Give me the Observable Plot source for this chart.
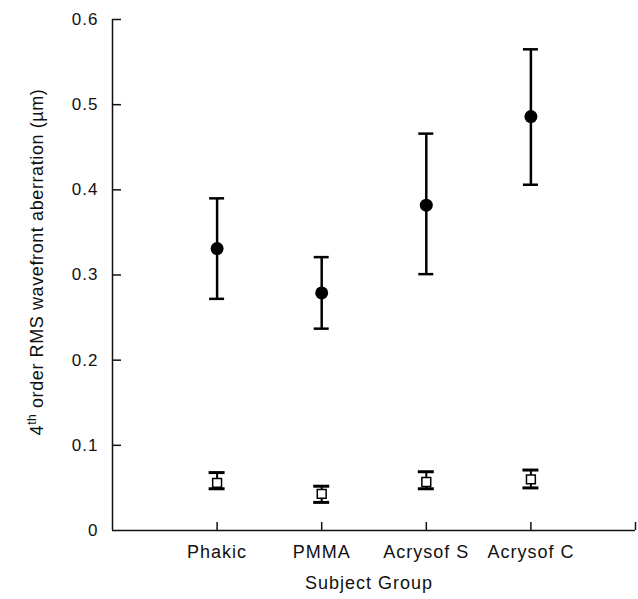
<!DOCTYPE html>
<html>
<head>
<meta charset="utf-8">
<script src="https://cdn.jsdelivr.net/npm/d3@7"></script>
<script src="https://cdn.jsdelivr.net/npm/@observablehq/plot@0.6"></script>
<style>
  html, body { margin: 0; padding: 0; background: #fff; }
  svg { font-family: "Liberation Sans", Arial, sans-serif; }
  svg text { letter-spacing: 1px; }
</style>
</head>
<body>
<div id="chart"></div>
<script>
// Data
const categories = ["Phakic", "PMMA", "Acrysof S", "Acrysof C"];
const fourthMean = [0.331, 0.279, 0.382, 0.486];
const fourthLow  = [0.272, 0.237, 0.301, 0.406];
const fourthHigh = [0.390, 0.321, 0.466, 0.565];
const sixthMean  = [0.056, 0.043, 0.057, 0.060];
const sixthLow   = [0.049, 0.033, 0.049, 0.050];
const sixthHigh  = [0.068, 0.052, 0.069, 0.071];
const yTicks = [0, 0.1, 0.2, 0.3, 0.4, 0.5, 0.6];

const big = categories.map((c, i) => ({cat: c, pos: i + 1, m: fourthMean[i], lo: fourthLow[i], hi: fourthHigh[i]}));
const small = categories.map((c, i) => ({cat: c, pos: i + 1, m: sixthMean[i], lo: sixthLow[i], hi: sixthHigh[i]}));

const plot = Plot.plot({
  width: 638,
  height: 599,
  marginLeft: 112,
  marginRight: 3,
  marginTop: 19,
  marginBottom: 69,
  style: {fontSize: "18px", fontFamily: "'Liberation Sans', Arial, sans-serif", color: "#111"},
  x: {domain: [0, 5]},
  y: {domain: [0, 0.6]},
  marks: [
    // axis lines
    Plot.ruleX([0], {stroke: "#111", strokeWidth: 1.5}),
    Plot.ruleY([0], {stroke: "#111", strokeWidth: 1.5}),
    // y axis: inward ticks + labels
    Plot.axisY({ticks: yTicks.filter(d => d > 0), tickSize: -9, tickFormat: () => "", stroke: "#111", strokeWidth: 1.5, label: null}),
    Plot.axisY({ticks: yTicks, tickSize: 0, tickPadding: 14, tickFormat: d => d === 0 ? "0" : d3.format(".1f")(d), label: null, fill: "#111", fontSize: 17}),
    // x axis: inward ticks + labels
    Plot.axisX({ticks: [1, 2, 3, 4, 5], tickSize: -8, tickFormat: () => "", stroke: "#111", strokeWidth: 1.5, label: null}),
    Plot.axisX({ticks: [1, 2, 3, 4], tickSize: 0, tickPadding: 15, tickFormat: d => categories[d - 1], label: null, fill: "#111", fontSize: 18}),
    // 4th order error bars
    Plot.ruleX(big, {x: "pos", y1: "lo", y2: "hi", stroke: "#000", strokeWidth: 2.5}),
    Plot.ruleY(big, {y: "lo", x1: "pos", x2: "pos", insetLeft: -7.5, insetRight: -7.5, stroke: "#000", strokeWidth: 2.5}),
    Plot.ruleY(big, {y: "hi", x1: "pos", x2: "pos", insetLeft: -7.5, insetRight: -7.5, stroke: "#000", strokeWidth: 2.5}),
    Plot.dot(big, {x: "pos", y: "m", r: 6.5, fill: "#000", stroke: "none"}),
    // 6th order error bars
    Plot.ruleX(small, {x: "pos", y1: "lo", y2: "hi", stroke: "#000", strokeWidth: 2}),
    Plot.ruleY(small, {y: "lo", x1: "pos", x2: "pos", insetLeft: -8, insetRight: -8, stroke: "#000", strokeWidth: 3}),
    Plot.ruleY(small, {y: "hi", x1: "pos", x2: "pos", insetLeft: -8, insetRight: -8, stroke: "#000", strokeWidth: 3}),
    Plot.dot(small, {x: "pos", y: "m", symbol: "square", r: 5, fill: "#fff", stroke: "#000", strokeWidth: 1.5}),
    // x axis title
    Plot.text(["Subject Group"], {frameAnchor: "bottom", dy: 58, dx: -5, fill: "#111", fontSize: 18})
  ]
});

document.getElementById("chart").appendChild(plot);

// rotated y-axis title with superscript
const svg = d3.select(plot);
const t = svg.append("text")
  .attr("transform", "translate(43,262) rotate(-90)")
  .attr("text-anchor", "middle")
  .attr("fill", "#111")
  .style("font-size", "18px")
  .style("letter-spacing", "0.6px");
t.append("tspan").text("4");
t.append("tspan").attr("dy", "-7").style("font-size", "12px").text("th");
t.append("tspan").attr("dy", "7").text(" order RMS wavefront aberration (\u00b5m)");
</script>
</body>
</html>
